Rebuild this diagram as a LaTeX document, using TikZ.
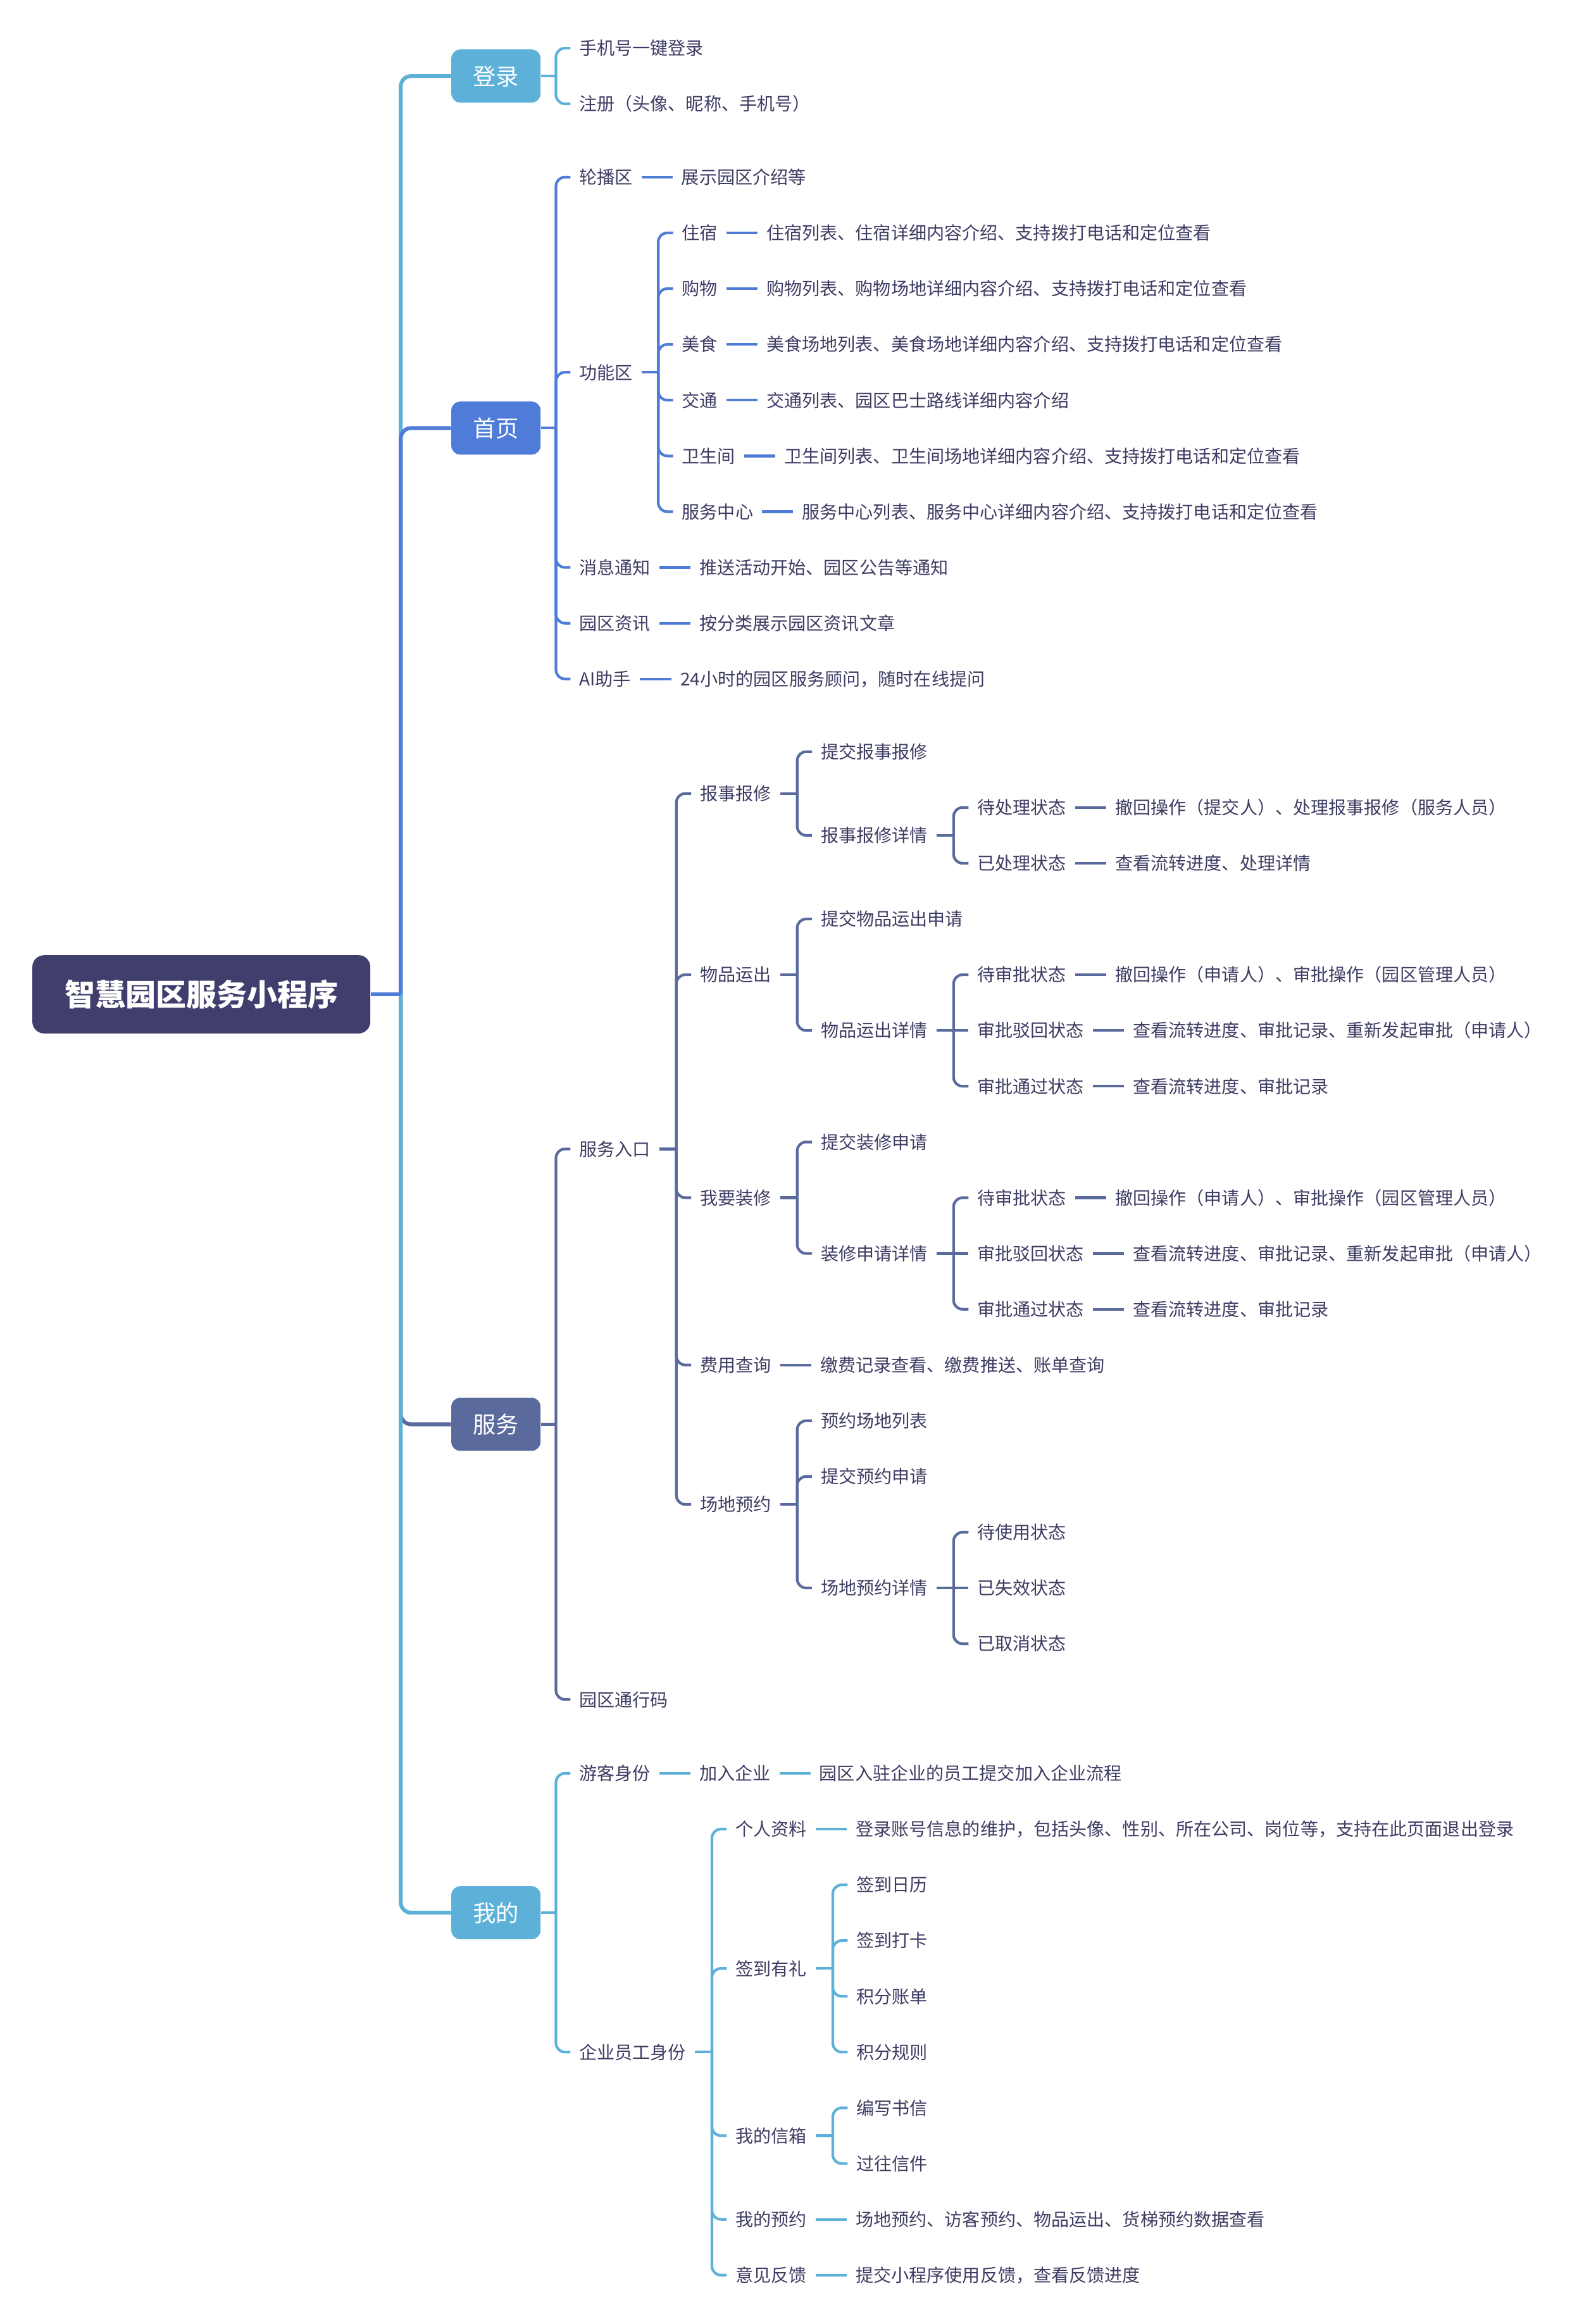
\documentclass[tikz,border=0pt]{standalone}
\usepackage{fontspec}
\setmainfont{Noto Sans CJK SC}
\definecolor{navy}{HTML}{403E6C}
\definecolor{ink}{HTML}{3D3C63}
\definecolor{lblue}{HTML}{5DB1D9}
\definecolor{rblue}{HTML}{4F7CD8}
\definecolor{slate}{HTML}{5B6A9C}
\tikzset{
  txt/.style={anchor=west,inner sep=0pt,outer xsep=6pt,text=ink,font=\fontsize{12}{14}\selectfont,text height=10pt,text depth=0.8pt},
  box/.style={fill=#1,rounded corners=6pt,minimum width=60.2pt,minimum height=35.8pt,inner sep=0pt,text=white,font=\fontsize{15.5}{18}\selectfont,text height=12.3pt,text depth=0.3pt},
  trunk/.style={draw=#1,line width=2.6pt,rounded corners=7pt},
  br/.style={draw=#1,line width=1.8pt,rounded corners=6pt}
}

\begin{document}
\begin{tikzpicture}[x=1pt,y=-1pt]
\useasboundingbox (0,0) rectangle (1068,1567.4);

\node[fill=navy,rounded corners=8pt,minimum width=228pt,minimum height=52.8pt,inner sep=0pt,text=white,font=\fontsize{20.5}{24}\selectfont\bfseries] (app) at (135.8,670.6) {智慧园区服务小程序};
\node[box=lblue] (dl) at (334.5,51.3) {登录};
\node[box=rblue] (sy) at (334.5,288.7) {首页};
\node[box=slate] (fw) at (334.5,960.6) {服务};
\node[box=lblue] (wd) at (334.5,1290) {我的};
\coordinate (hub) at (270.3,670.6);
\draw[trunk=lblue] (hub) |- (dl.west);
\draw[trunk=slate] (hub) |- (fw.west);
\draw[trunk=rblue] (hub) |- (sy.west);
\draw[trunk=lblue] (hub) |- (wd.west);
\draw[trunk=rblue] (app.east) -- (hub);

\node[txt] (dl1) at (384.7,32.5) {手机号一键登录};
\node[txt] (dl2) at (384.7,70) {注册（头像、昵称、手机号）};
\coordinate (dlq) at (375,51.3);
\draw[br=lblue] (dl.east) -- (dlq);
\foreach \c in {dl1,dl2} \draw[br=lblue] (dlq) |- (\c.west);

\node[txt] (lb) at (384.7,119.5) {轮播区};
\node[txt] (lbA) at (453.7,119.5) {展示园区介绍等};
\node[txt] (gn) at (384.7,251.1) {功能区};
\node[txt] (zs) at (454,157.1) {住宿};
\node[txt] (zsA) at (511,157.1) {住宿列表、住宿详细内容介绍、支持拨打电话和定位查看};
\node[txt] (gw) at (454,194.7) {购物};
\node[txt] (gwA) at (511,194.7) {购物列表、购物场地详细内容介绍、支持拨打电话和定位查看};
\node[txt] (ms) at (454,232.3) {美食};
\node[txt] (msA) at (511,232.3) {美食场地列表、美食场地详细内容介绍、支持拨打电话和定位查看};
\node[txt] (jt) at (454,269.9) {交通};
\node[txt] (jtA) at (511,269.9) {交通列表、园区巴士路线详细内容介绍};
\node[txt] (ws) at (454,307.5) {卫生间};
\node[txt] (wsA) at (523,307.5) {卫生间列表、卫生间场地详细内容介绍、支持拨打电话和定位查看};
\node[txt] (fz) at (454,345.1) {服务中心};
\node[txt] (fzA) at (535,345.1) {服务中心列表、服务中心详细内容介绍、支持拨打电话和定位查看};
\node[txt] (xx) at (384.7,382.7) {消息通知};
\node[txt] (xxA) at (465.7,382.7) {推送活动开始、园区公告等通知};
\node[txt] (zx) at (384.7,420.3) {园区资讯};
\node[txt] (zxA) at (465.7,420.3) {按分类展示园区资讯文章};
\node[txt] (ai) at (384.7,457.9) {AI助手};
\node[txt] (aiA) at (453,457.9) {24小时的园区服务顾问，随时在线提问};
\coordinate (syq) at (375,288.7);
\coordinate (gnq) at (444,251.1);
\draw[br=rblue] (sy.east) -- (syq);
\foreach \c in {lb,gn,xx,zx,ai} \draw[br=rblue] (syq) |- (\c.west);
\draw[br=rblue] (gn.east) -- (gnq);
\foreach \c in {zs,gw,ms,jt,ws,fz} \draw[br=rblue] (gnq) |- (\c.west);
\foreach \a/\b in {lb/lbA,zs/zsA,gw/gwA,ms/msA,jt/jtA,ws/wsA,fz/fzA,xx/xxA,zx/zxA,ai/aiA} \draw[br=rblue] (\a.east) -- (\b.west);

\node[txt] (rk) at (384.7,774.9) {服务入口};
\node[txt] (txm) at (384.7,1146.2) {园区通行码};
\node[txt] (bx) at (466.2,535.2) {报事报修};
\node[txt] (bx1) at (547.7,507) {提交报事报修};
\node[txt] (bx2) at (547.7,563.4) {报事报修详情};
\node[txt] (bxA) at (653.2,544.6) {待处理状态};
\node[txt] (bxAa) at (746.2,544.6) {撤回操作（提交人）、处理报事报修（服务人员）};
\node[txt] (bxB) at (653.2,582.2) {已处理状态};
\node[txt] (bxBa) at (746.2,582.2) {查看流转进度、处理详情};
\node[txt] (yc) at (466.2,657.4) {物品运出};
\node[txt] (yc1) at (547.7,619.8) {提交物品运出申请};
\node[txt] (yc2) at (547.7,695) {物品运出详情};
\node[txt] (ycA) at (653.2,657.4) {待审批状态};
\node[txt] (ycAa) at (746.2,657.4) {撤回操作（申请人）、审批操作（园区管理人员）};
\node[txt] (ycB) at (653.2,695) {审批驳回状态};
\node[txt] (ycBa) at (758.2,695) {查看流转进度、审批记录、重新发起审批（申请人）};
\node[txt] (ycC) at (653.2,732.6) {审批通过状态};
\node[txt] (ycCa) at (758.2,732.6) {查看流转进度、审批记录};
\node[txt] (wz) at (466.2,807.8) {我要装修};
\node[txt] (wz1) at (547.7,770.2) {提交装修申请};
\node[txt] (wz2) at (547.7,845.4) {装修申请详情};
\node[txt] (wzA) at (653.2,807.8) {待审批状态};
\node[txt] (wzAa) at (746.2,807.8) {撤回操作（申请人）、审批操作（园区管理人员）};
\node[txt] (wzB) at (653.2,845.4) {审批驳回状态};
\node[txt] (wzBa) at (758.2,845.4) {查看流转进度、审批记录、重新发起审批（申请人）};
\node[txt] (wzC) at (653.2,883) {审批通过状态};
\node[txt] (wzCa) at (758.2,883) {查看流转进度、审批记录};
\node[txt] (fy) at (466.2,920.6) {费用查询};
\node[txt] (fyA) at (547.2,920.6) {缴费记录查看、缴费推送、账单查询};
\node[txt] (cd) at (466.2,1014.6) {场地预约};
\node[txt] (cd1) at (547.7,958.2) {预约场地列表};
\node[txt] (cd2) at (547.7,995.8) {提交预约申请};
\node[txt] (cd3) at (547.7,1071) {场地预约详情};
\node[txt] (cdA) at (653.2,1033.4) {待使用状态};
\node[txt] (cdB) at (653.2,1071) {已失效状态};
\node[txt] (cdC) at (653.2,1108.6) {已取消状态};
\coordinate (fwq) at (375,960.6);
\coordinate (rkq) at (456.2,774.9);
\coordinate (bxq) at (537.7,535.2);
\coordinate (bx2q) at (643.2,563.4);
\coordinate (ycq) at (537.7,657.4);
\coordinate (yc2q) at (643.2,695);
\coordinate (wzq) at (537.7,807.8);
\coordinate (wz2q) at (643.2,845.4);
\coordinate (cdq) at (537.7,1014.6);
\coordinate (cd3q) at (643.2,1071);
\draw[br=slate] (fw.east) -- (fwq);
\foreach \c in {rk,txm} \draw[br=slate] (fwq) |- (\c.west);
\draw[br=slate] (rk.east) -- (rkq);
\foreach \c in {bx,yc,wz,fy,cd} \draw[br=slate] (rkq) |- (\c.west);
\draw[br=slate] (bx.east) -- (bxq);
\foreach \c in {bx1,bx2} \draw[br=slate] (bxq) |- (\c.west);
\draw[br=slate] (bx2.east) -- (bx2q);
\foreach \c in {bxA,bxB} \draw[br=slate] (bx2q) |- (\c.west);
\draw[br=slate] (yc.east) -- (ycq);
\foreach \c in {yc1,yc2} \draw[br=slate] (ycq) |- (\c.west);
\draw[br=slate] (yc2.east) -- (ycB.west);
\foreach \c in {ycA,ycC} \draw[br=slate] (yc2q) |- (\c.west);
\draw[br=slate] (wz.east) -- (wzq);
\foreach \c in {wz1,wz2} \draw[br=slate] (wzq) |- (\c.west);
\draw[br=slate] (wz2.east) -- (wzB.west);
\foreach \c in {wzA,wzC} \draw[br=slate] (wz2q) |- (\c.west);
\draw[br=slate] (cd.east) -- (cdq);
\foreach \c in {cd1,cd2,cd3} \draw[br=slate] (cdq) |- (\c.west);
\draw[br=slate] (cd3.east) -- (cdB.west);
\foreach \c in {cdA,cdC} \draw[br=slate] (cd3q) |- (\c.west);
\foreach \a/\b in {bxA/bxAa,bxB/bxBa,ycA/ycAa,ycB/ycBa,ycC/ycCa,wzA/wzAa,wzB/wzBa,wzC/wzCa,fy/fyA} \draw[br=slate] (\a.east) -- (\b.west);

\node[txt] (yk) at (384.7,1196) {游客身份};
\node[txt] (yk1) at (465.7,1196) {加入企业};
\node[txt] (yk2) at (546.7,1196) {园区入驻企业的员工提交加入企业流程};
\node[txt] (yg) at (384.7,1384) {企业员工身份};
\node[txt] (gr) at (490.2,1233.6) {个人资料};
\node[txt] (grA) at (571.2,1233.6) {登录账号信息的维护，包括头像、性别、所在公司、岗位等，支持在此页面退出登录};
\node[txt] (qd) at (490.2,1327.6) {签到有礼};
\node[txt] (qdA) at (571.7,1271.2) {签到日历};
\node[txt] (qdB) at (571.7,1308.8) {签到打卡};
\node[txt] (qdC) at (571.7,1346.4) {积分账单};
\node[txt] (qdD) at (571.7,1384) {积分规则};
\node[txt] (xy) at (490.2,1440.4) {我的信箱};
\node[txt] (xyA) at (571.7,1421.6) {编写书信};
\node[txt] (xyB) at (571.7,1459.2) {过往信件};
\node[txt] (yy) at (490.2,1496.8) {我的预约};
\node[txt] (yyA) at (571.2,1496.8) {场地预约、访客预约、物品运出、货梯预约数据查看};
\node[txt] (fk) at (490.2,1534.4) {意见反馈};
\node[txt] (fkA) at (571.2,1534.4) {提交小程序使用反馈，查看反馈进度};
\coordinate (wdq) at (375,1290);
\coordinate (ygq) at (480.2,1384);
\coordinate (qdq) at (561.7,1327.6);
\coordinate (xyq) at (561.7,1440.4);
\draw[br=lblue] (wd.east) -- (wdq);
\foreach \c in {yk,yg} \draw[br=lblue] (wdq) |- (\c.west);
\draw[br=lblue] (yg.east) -- (ygq);
\foreach \c in {gr,qd,xy,yy,fk} \draw[br=lblue] (ygq) |- (\c.west);
\draw[br=lblue] (qd.east) -- (qdq);
\foreach \c in {qdA,qdB,qdC,qdD} \draw[br=lblue] (qdq) |- (\c.west);
\draw[br=lblue] (xy.east) -- (xyq);
\foreach \c in {xyA,xyB} \draw[br=lblue] (xyq) |- (\c.west);
\foreach \a/\b in {yk/yk1,yk1/yk2,gr/grA,yy/yyA,fk/fkA} \draw[br=lblue] (\a.east) -- (\b.west);
\end{tikzpicture}
\end{document}
